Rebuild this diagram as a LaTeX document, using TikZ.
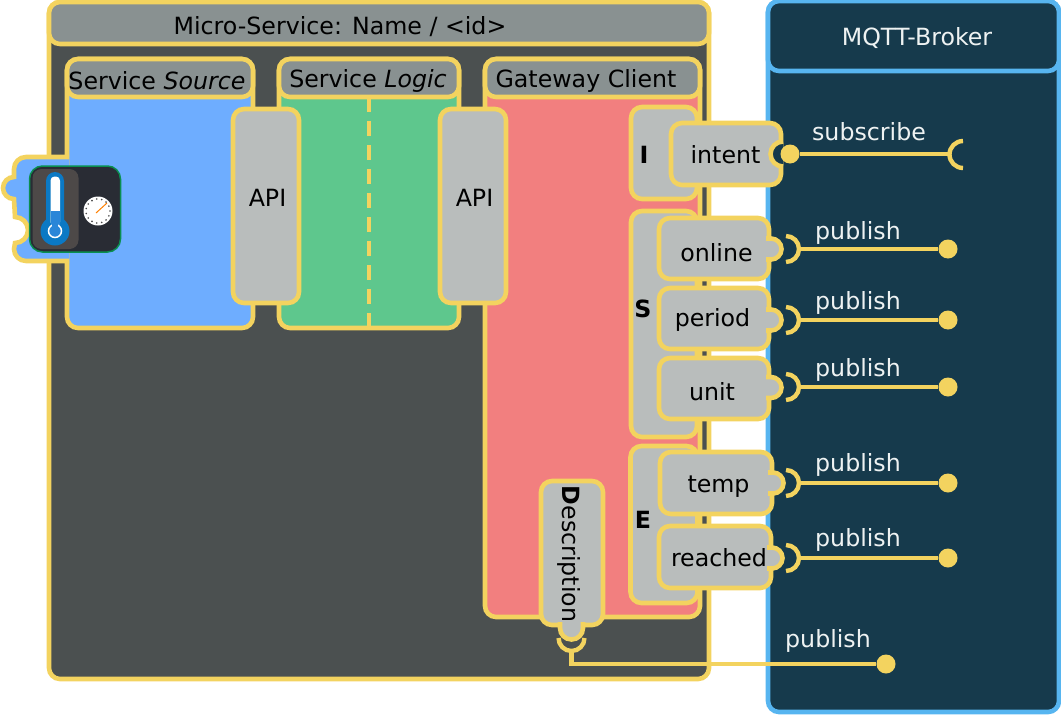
\documentclass[tikz,border=0pt]{standalone}
\usepackage{fontspec}
\setmainfont{DejaVu Sans}
\usepackage{xcolor}
\definecolor{lineyellow}{HTML}{F3D35F}
\definecolor{servicedark}{HTML}{4B5050}
\definecolor{titlegrey}{HTML}{899191}
\definecolor{portgrey}{HTML}{B9BDBC}
\definecolor{sourceblue}{HTML}{6EADFF}
\definecolor{logicgreen}{HTML}{5EC78D}
\definecolor{gatewayred}{HTML}{F27F7F}
\definecolor{brokerteal}{HTML}{163A4C}
\definecolor{brokerblue}{HTML}{57B5F0}
\definecolor{brokertext}{HTML}{EEF2F2}
\definecolor{icondark}{HTML}{292C34}
\definecolor{iconback}{HTML}{4D4948}
\definecolor{iconedge}{HTML}{0A8F50}
\definecolor{thermoblue}{HTML}{0B79C4}
\definecolor{thermofill}{HTML}{2A86D8}

\begin{document}
\begin{tikzpicture}[
    x=1pt, y=-1pt,
    box/.style={shape=rectangle, draw=lineyellow, line width=4.6pt, inner sep=0pt, rounded corners=11pt},
    titlebox/.style={box, fill=titlegrey},
    portbox/.style={box, fill=portgrey},
    plug/.style={draw=lineyellow, line width=4.6pt, fill=portgrey},
    wire/.style={draw=lineyellow, line width=4.4pt},
    dot/.style={shape=circle, fill=lineyellow, inner sep=0pt, minimum size=19pt},
    txt/.style={font=\fontsize{23.7}{24}\selectfont, inner sep=0pt},
    brokertxt/.style={txt, text=brokertext}]
    \useasboundingbox (0,0) rectangle (1061,715);

    % service frame
    \node (service) [box, fill=servicedark, minimum width=660, minimum height=677] at (379,340.5) {};
    \node (serviceTitle) [titlebox, minimum width=660, minimum height=42] at (379,23) {};
    \node (serviceText) [txt] at (340,27) {Micro-Service: Name / <id>};

    % broker frame
    \node (broker) [box, draw=brokerblue, fill=brokerteal, minimum width=291, minimum height=711] at (913.5,356.5) {};
    \node (brokerTitle) [box, draw=brokerblue, fill=brokerteal, minimum width=291, minimum height=70] at (913.5,36) {};
    \node (brokerText) [brokertxt] at (917,38) {MQTT-Broker};

    % source
    \node (source) [box, fill=sourceblue, minimum width=186, minimum height=269] at (160,193.5) {};
    \node (sourceTitle) [titlebox, minimum width=186, minimum height=38] at (160,78) {};
    \node (sourceText) [txt] at (157,80.5) {Service \textit{Source}};
    \draw[draw=lineyellow, line width=4.6pt, fill=sourceblue] (69,157) -- (26,157) arc[start angle=90, end angle=180, radius=12pt] -- (14,177) arc[start angle=90, end angle=270, radius=11pt] -- (15,217) arc[start angle=90, end angle=-90, radius=13pt] -- (14,249) arc[start angle=180, end angle=270, radius=12pt] -- (69,261);

    % sensor icon
    \node (icon) [shape=rectangle, draw=iconedge, fill=icondark, line width=1.5pt, rounded corners=13pt, minimum width=91, minimum height=86] at (75,209) {};
    \node (iconBack) [shape=rectangle, fill=iconback, rounded corners=9pt, minimum width=46, minimum height=80] at (55.5,209) {};
    \fill[thermoblue, rounded corners=9pt] (46,172) rectangle (64,236);
    \fill[thermoblue] (55,231) circle[radius=14.5pt];
    \fill[white, rounded corners=4pt] (50.5,176.5) rectangle (60,226);
    \fill[thermofill] (50.5,211) rectangle (60,226);
    \draw[white, line width=1.5pt, fill=thermofill] (55,231) circle[radius=6.5pt];
    \fill[thermofill] (52,222) rectangle (58,229);
    \fill[white] (98,211) circle[radius=14.5pt];
    \foreach \a in {0,24,...,336}
      \fill[black!70] (98,211) ++(\a:12pt) circle[radius=0.9pt];
    \draw[orange, line width=1pt] (96,213) -- (107,203);

    % logic
    \node (logic) [box, fill=logicgreen, minimum width=180, minimum height=269] at (369,193.5) {};
    \node (logicTitle) [titlebox, minimum width=180, minimum height=38] at (369,78) {};
    \node (logicText) [txt] at (368,80.5) {Service \textit{Logic}};
    \coordinate (logicTop) at (369,97);
    \coordinate (logicBottom) at (369,326);
    \draw[draw=lineyellow, line width=3.6pt, dash pattern=on 15pt off 9pt] (logicTop) -- (logicBottom);

    % gateway
    \node (gateway) [box, fill=gatewayred, minimum width=215, minimum height=558] at (592.5,338) {};
    \node (gatewayTitle) [titlebox, minimum width=215, minimum height=38] at (592.5,78) {};
    \node (gatewayText) [txt] at (586,80.5) {Gateway Client};

    \node (apiSource) [portbox, minimum width=66, minimum height=194] at (266,206) {};
    \node (apiSourceText) [txt] at (267.5,197.5) {API};
    \node (apiGateway) [portbox, minimum width=66, minimum height=194] at (473,206) {};
    \node (apiGatewayText) [txt] at (474.5,197.5) {API};

    % I S E groups
    \node (groupI) [portbox, minimum width=66, minimum height=92] at (664,153) {};
    \node (groupS) [portbox, minimum width=66, minimum height=226] at (664,324) {};
    \node (groupE) [portbox, minimum width=67, minimum height=157] at (664,524.5) {};
    \node (labelI) [txt] at (644,155) {\textbf{I}};
    \node (labelS) [txt] at (643,309) {\textbf{S}};
    \node (labelE) [txt] at (643,520) {\textbf{E}};

    % intent with socket
    \node (intent) [portbox, minimum width=110, minimum height=62] at (726,154) {};
    \node (intentText) [txt] at (725.5,155) {intent};
    \draw[plug, fill=brokerteal] (783,141.5) arc[start angle=90, end angle=270, radius=12.5pt];
    \node (dotIntent) [dot] at (790,154) {};
    \coordinate (cupIntent) at (950,154);
    \draw[wire] (dotIntent) -- (cupIntent);
    \draw[wire] (963,141) arc[start angle=90, end angle=270, radius=13.5pt];
    \node (subscribeText) [brokertxt] at (869,132) {subscribe};

    % state ports
    \node (online) [portbox, minimum width=110, minimum height=61] at (714,248.5) {};
    \node (onlineText) [txt] at (716.5,253) {online};
    \draw[plug] (766,238.5) -- (771,238.5) arc[start angle=90, end angle=-90, radius=10.5pt] -- (766,259.5);
    \node (period) [portbox, minimum width=110, minimum height=61] at (714,318.5) {};
    \node (periodText) [txt] at (712.5,320) {period};
    \draw[plug] (766,309.5) -- (771,309.5) arc[start angle=90, end angle=-90, radius=10.5pt] -- (766,330.5);
    \node (unit) [portbox, minimum width=110, minimum height=61] at (714,388.5) {};
    \node (unitText) [txt] at (712,392) {unit};
    \draw[plug] (766,377) -- (771,377) arc[start angle=90, end angle=-90, radius=10.5pt] -- (766,398);

    % event ports
    \node (temp) [portbox, minimum width=112, minimum height=62] at (716,483) {};
    \node (tempText) [txt] at (718.5,487) {temp};
    \draw[plug] (768,472.5) -- (773,472.5) arc[start angle=90, end angle=-90, radius=10.5pt] -- (768,493.5);
    \node (reached) [portbox, minimum width=112, minimum height=62] at (715,557) {};
    \node (reachedText) [txt] at (719,558) {reached};
    \draw[plug] (767,547.5) -- (772,547.5) arc[start angle=90, end angle=-90, radius=10.5pt] -- (767,568.5);

    % publish wires
    \foreach \n/\y/\py in {A/249/233, B/320/303, C/387/370, D/483/465, E/558/540} {
      \coordinate (cup\n) at (799,\y);
      \node (dot\n) [dot] at (948,\y) {};
      \draw[wire] (cup\n) -- (dot\n);
      \draw[wire] (786,\y-13) arc[start angle=90, end angle=-90, radius=13pt];
      \node (publish\n) [brokertxt] at (858,\py) {publish};
    }

    % description
    \node (description) [portbox, minimum width=62, minimum height=144] at (572,553) {};
    \node (descriptionText) [txt, rotate=-90] at (569.5,554) {\textbf{D}escription};
    \draw[plug] (560,622) -- (560,628) arc[start angle=180, end angle=360, radius=11.5pt] -- (583,622);
    \draw[wire] (558.5,638) arc[start angle=180, end angle=360, radius=13pt];
    \coordinate (cupDescription) at (571.5,651);
    \node (dotDescription) [dot] at (886,664) {};
    \draw[wire] (cupDescription) |- (dotDescription);
    \node (publishDescription) [brokertxt] at (828,641) {publish};
  \end{tikzpicture}
\end{document}
